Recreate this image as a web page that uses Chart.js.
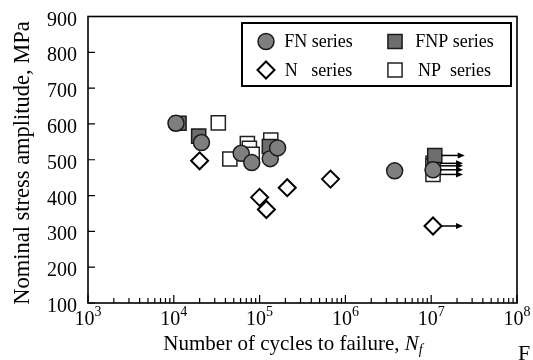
<!DOCTYPE html>
<html>
<head>
<meta charset="utf-8">
<script src="https://cdn.jsdelivr.net/npm/chart.js@4"></script>
<style>
  body { margin: 0; background: #fff; }
  #wrap { width: 533px; height: 360px; }
</style>
</head>
<body>
<div id="wrap"><canvas id="snChart" width="533" height="360"></canvas></div>
<script>
// values: cycles to failure, stress amplitude (MPa)
const fnCycles = [1.06e4, 2.1e4, 6.1e4, 8.1e4, 1.33e5, 1.62e5, 3.75e6, 1.05e7];
const fnStress = [602, 548, 518, 492, 503, 533, 469, 472];
const fnRunout = [false, false, false, false, false, false, false, true];

const fnpCycles = [1.15e4, 1.95e4, 1.3e5, 1.1e7];
const fnpStress = [602, 566, 537, 512];
const fnpRunout = [false, false, false, true];

const nCycles = [2.0e4, 1.0e5, 1.2e5, 2.1e5, 6.7e5, 1.05e7];
const nStress = [497, 395, 361, 422, 446, 315];
const nRunout = [false, false, false, false, false, true];

const npCycles = [3.3e4, 4.5e4, 7.2e4, 7.6e4, 8.2e4, 1.35e5, 1.05e7, 1.05e7, 1.05e7];
const npStress = [603, 502, 545, 532, 515, 555, 490, 483, 459];
const npRunout = [false, false, false, false, false, false, true, true, true];

const seriesLabels = ['FN series', 'FNP series', 'N   series', 'NP  series'];
const xTickExponents = [3, 4, 5, 6, 7, 8];
const yTicks = [100, 200, 300, 400, 500, 600, 700, 800, 900];

const FONT = "'Liberation Serif', 'Times New Roman', serif";

function toPoints(xs, ys) {
  return xs.map((x, i) => ({ x: x, y: ys[i] }));
}

function marker(ctx, style, x, y) {
  ctx.save();
  ctx.beginPath();
  if (style.pointStyle === 'circle') {
    ctx.arc(x, y, style.pointRadius, 0, Math.PI * 2);
  } else if (style.pointStyle === 'rect') {
    const h = style.pointRadius * Math.SQRT1_2;
    ctx.rect(x - h, y - h, 2 * h, 2 * h);
  } else {
    const r = style.pointRadius;
    ctx.moveTo(x, y - r); ctx.lineTo(x + r, y); ctx.lineTo(x, y + r); ctx.lineTo(x - r, y);
    ctx.closePath();
  }
  ctx.fillStyle = style.backgroundColor;
  ctx.fill();
  ctx.lineWidth = style.borderWidth;
  ctx.strokeStyle = style.borderColor;
  ctx.stroke();
  ctx.restore();
}

const datasets = [
  { label: seriesLabels[0], data: toPoints(fnCycles, fnStress), runout: fnRunout,
    pointStyle: 'circle', pointRadius: 8, backgroundColor: '#7f7f7f', borderColor: '#1a1a1a', borderWidth: 1.5 },
  { label: seriesLabels[1], data: toPoints(fnpCycles, fnpStress), runout: fnpRunout,
    pointStyle: 'rect', pointRadius: 10, backgroundColor: '#6e6e6e', borderColor: '#1a1a1a', borderWidth: 1.5 },
  { label: seriesLabels[2], data: toPoints(nCycles, nStress), runout: nRunout,
    pointStyle: 'rectRot', pointRadius: 8.5, backgroundColor: '#ffffff', borderColor: '#000000', borderWidth: 2 },
  { label: seriesLabels[3], data: toPoints(npCycles, npStress), runout: npRunout,
    pointStyle: 'rect', pointRadius: 10, backgroundColor: '#ffffff', borderColor: '#222222', borderWidth: 1.5 }
];

// frame, inward ticks, tick labels and axis titles
const axesPlugin = {
  id: 'axesPlugin',
  beforeDatasetsDraw(chart) {
    const ctx = chart.ctx, a = chart.chartArea;
    const sx = chart.scales.x, sy = chart.scales.y;
    ctx.save();
    ctx.strokeStyle = '#000';
    ctx.lineWidth = 1.2;
    ctx.beginPath();
    xTickExponents.forEach((e, i) => {
      const dec = Math.pow(10, e);
      const px = sx.getPixelForValue(dec);
      ctx.moveTo(px, a.bottom); ctx.lineTo(px, a.bottom - 8);
      if (i < xTickExponents.length - 1) {
        for (let m = 2; m <= 9; m++) {
          const p = sx.getPixelForValue(m * dec);
          ctx.moveTo(p, a.bottom); ctx.lineTo(p, a.bottom - 5);
        }
      }
    });
    yTicks.forEach(v => {
      const py = sy.getPixelForValue(v);
      ctx.moveTo(a.left, py); ctx.lineTo(a.left + 7, py);
    });
    ctx.stroke();
    ctx.lineWidth = 1.6;
    ctx.strokeRect(a.left, a.top, a.right - a.left, a.bottom - a.top);

    ctx.fillStyle = '#000';
    // y tick labels
    ctx.font = '20px ' + FONT;
    ctx.textAlign = 'right';
    ctx.textBaseline = 'alphabetic';
    yTicks.forEach(v => {
      ctx.fillText(String(v), a.left - 11, sy.getPixelForValue(v) + 9);
    });
    // x tick labels 10^n
    ctx.textAlign = 'left';
    xTickExponents.forEach(e => {
      const px = sx.getPixelForValue(Math.pow(10, e));
      ctx.font = '20px ' + FONT;
      const wb = ctx.measureText('10').width;
      ctx.font = '14px ' + FONT;
      const we = ctx.measureText(String(e)).width;
      const x0 = px - (wb + we) / 2;
      ctx.font = '20px ' + FONT;
      ctx.fillText('10', x0, 325);
      ctx.font = '14px ' + FONT;
      ctx.fillText(String(e), x0 + wb, 316);
    });
    // x title with italic N_f
    const t1 = 'Number of cycles to failure, ';
    ctx.font = '21px ' + FONT;
    const w1 = ctx.measureText(t1).width;
    ctx.font = 'italic 21px ' + FONT;
    const w2 = ctx.measureText('N').width;
    ctx.font = 'italic 14px ' + FONT;
    const w3 = ctx.measureText('f').width;
    let tx = 293 - (w1 + w2 + w3) / 2;
    ctx.font = '21px ' + FONT;
    ctx.fillText(t1, tx, 350);
    ctx.font = 'italic 21px ' + FONT;
    ctx.fillText('N', tx + w1, 350);
    ctx.font = 'italic 14px ' + FONT;
    ctx.fillText('f', tx + w1 + w2, 354);
    // y title
    ctx.save();
    ctx.translate(29, 163);
    ctx.rotate(-Math.PI / 2);
    ctx.font = '22.5px ' + FONT;
    ctx.textAlign = 'center';
    ctx.fillText('Nominal stress amplitude, MPa', 0, 0);
    ctx.restore();
    // cropped caption letter at the bottom right
    ctx.font = '22px ' + FONT;
    ctx.textAlign = 'left';
    ctx.fillText('F', 518, 360);
    ctx.restore();
  },
  afterDatasetsDraw(chart) {
    const ctx = chart.ctx;
    const sx = chart.scales.x, sy = chart.scales.y;
    ctx.save();
    ctx.strokeStyle = '#000';
    ctx.fillStyle = '#000';
    ctx.lineWidth = 1.5;
    chart.data.datasets.forEach(ds => {
      ds.data.forEach((pt, i) => {
        if (!ds.runout[i]) return;
        const px = sx.getPixelForValue(pt.x), py = sy.getPixelForValue(pt.y);
        ctx.beginPath();
        ctx.moveTo(px + 7, py); ctx.lineTo(px + 24, py);
        ctx.stroke();
        ctx.beginPath();
        ctx.moveTo(px + 30, py); ctx.lineTo(px + 23, py - 3); ctx.lineTo(px + 23, py + 3);
        ctx.closePath();
        ctx.fill();
      });
    });
    ctx.restore();
  },
  afterDraw(chart) {
    const ctx = chart.ctx;
    const box = { left: 242, top: 23, right: 511, bottom: 86 };
    ctx.save();
    ctx.fillStyle = '#fff';
    ctx.fillRect(box.left, box.top, box.right - box.left, box.bottom - box.top);
    ctx.strokeStyle = '#000';
    ctx.lineWidth = 2;
    ctx.strokeRect(box.left, box.top, box.right - box.left, box.bottom - box.top);
    const cols = [{ mx: 266, tx: 318.5 }, { mx: 395, tx: 454.5 }];
    const rows = [41.5, 70];
    ctx.font = '18px ' + FONT;
    ctx.textAlign = 'center';
    ctx.textBaseline = 'middle';
    chart.data.datasets.forEach((ds, k) => {
      const c = cols[k % 2], r = rows[Math.floor(k / 2)];
      marker(ctx, ds, c.mx, r);
      ctx.fillStyle = '#000';
      ctx.fillText(ds.label, c.tx, r + 1);
    });
    ctx.restore();
  }
};

new Chart(document.getElementById('snChart'), {
  type: 'scatter',
  data: { datasets: datasets },
  options: {
    responsive: false,
    animation: false,
    layout: { padding: { left: 88, right: 16, top: 16.5, bottom: 57 } },
    plugins: { legend: { display: false }, tooltip: { enabled: false } },
    scales: {
      x: { type: 'logarithmic', min: 1e3, max: 1e8, display: false },
      y: { type: 'linear', min: 100, max: 900, display: false }
    }
  },
  plugins: [axesPlugin]
});
</script>
</body>
</html>
